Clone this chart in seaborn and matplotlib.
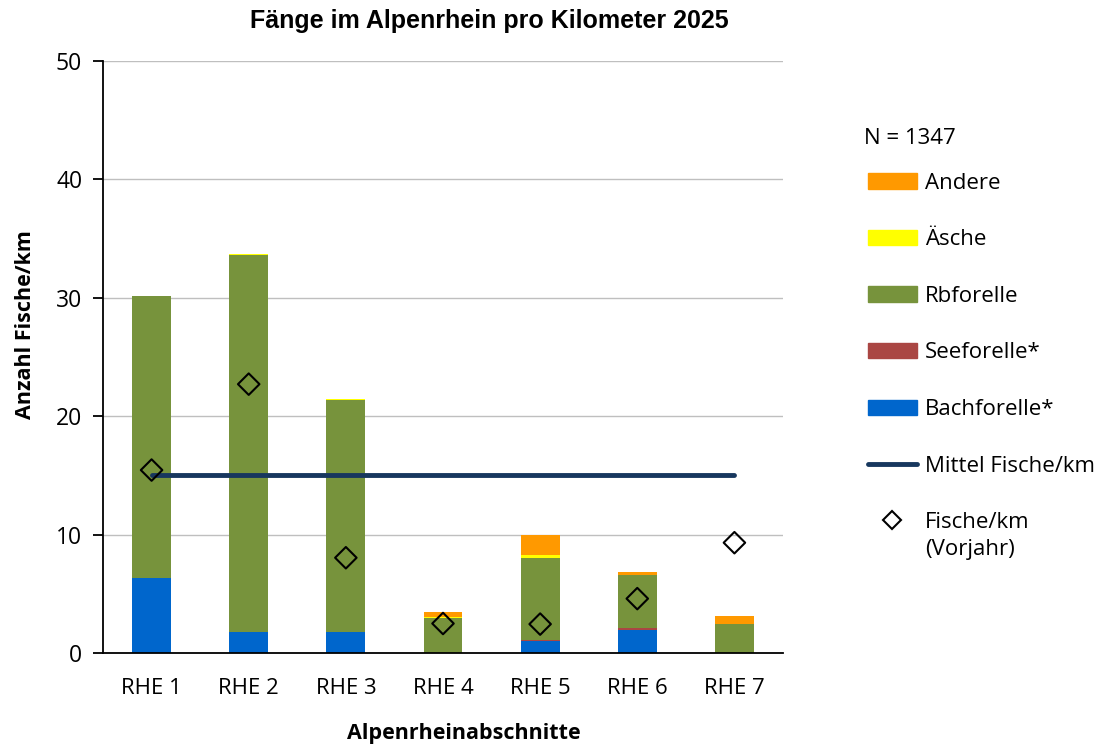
import numpy as np
import pandas as pd
import matplotlib
matplotlib.use("Agg")
import matplotlib.pyplot as plt
import seaborn as sns
from matplotlib.patches import Patch
from matplotlib.lines import Line2D

categories = ["RHE 1", "RHE 2", "RHE 3", "RHE 4", "RHE 5", "RHE 6", "RHE 7"]
bachforelle = [6.35, 1.80, 1.77, 0.00, 0.99, 1.91, 0.00]
seeforelle = [0.00, 0.00, 0.00, 0.00, 0.15, 0.25, 0.00]
rbforelle = [23.75, 31.80, 19.60, 2.95, 6.90, 4.45, 2.47]
aesche = [0.00, 0.08, 0.08, 0.12, 0.25, 0.00, 0.00]
andere = [0.00, 0.00, 0.00, 0.40, 1.70, 0.25, 0.68]
vorjahr = [15.45, 22.70, 8.05, 2.50, 2.45, 4.60, 9.32]
mittel = 15.05
n_total = 1347

sns.set_theme(style="white")
plt.rcParams["font.family"] = ["Open Sans", "DejaVu Sans"]
plt.rcParams["text.color"] = "black"
plt.rcParams["axes.labelcolor"] = "black"
plt.rcParams["xtick.color"] = "black"
plt.rcParams["ytick.color"] = "black"

colors = {
    "Andere": "#FF9900",
    "Äsche": "#FFFF00",
    "Rbforelle": "#77933C",
    "Seeforelle*": "#AA4643",
    "Bachforelle*": "#0066CC",
}

df = pd.DataFrame({
    "Abschnitt": categories,
    "Bachforelle*": bachforelle,
    "Seeforelle*": seeforelle,
    "Rbforelle": rbforelle,
    "Äsche": aesche,
    "Andere": andere,
})
stack_order = ["Bachforelle*", "Seeforelle*", "Rbforelle", "Äsche", "Andere"]
cum = df[stack_order].cumsum(axis=1)

fig = plt.figure(figsize=(11.10, 7.49), dpi=100)
ax = fig.add_axes([0.0928, 0.128, 0.6126, 0.791])

for sp in reversed(stack_order):
    sns.barplot(x=df["Abschnitt"], y=cum[sp], color=colors[sp], width=0.4,
                ax=ax, saturation=1, edgecolor="none", linewidth=0, zorder=2)

xs = np.arange(len(categories))
ax.plot([xs[0], xs[-1]], [mittel, mittel], color="#17375E", lw=3.5, zorder=3,
        solid_capstyle="round")
sns.scatterplot(x=xs, y=vorjahr, marker="D", s=120, facecolor="none",
                edgecolor="black", linewidth=1.5, ax=ax, zorder=4)

ax.set_xlim(-0.5, len(categories) - 0.5)
ax.set_ylim(0, 50)
ax.set_yticks([0, 10, 20, 30, 40, 50])
ax.yaxis.grid(True, color="#BFBFBF", lw=1)
ax.set_axisbelow(True)
for s in ["top", "right"]:
    ax.spines[s].set_visible(False)
for s in ["left", "bottom"]:
    ax.spines[s].set_color("black")
    ax.spines[s].set_linewidth(1.3)

ax.set_xticks(xs)
ax.set_xticklabels(categories, fontsize=16)
ax.tick_params(axis="x", length=0, pad=18)
ax.set_xticks(np.arange(-0.5, len(categories), 1), minor=True)
ax.tick_params(axis="x", which="minor", length=7, width=1.3, color="black", direction="out")
ax.tick_params(axis="y", length=7, width=1.3, color="black", direction="out", labelsize=16.5, pad=8, left=True)

ax.set_xlabel("Alpenrheinabschnitte", fontsize=15.5, fontweight="bold", labelpad=17, x=0.53)
ax.set_ylabel("Anzahl Fische/km", fontsize=15.5, fontweight="bold", labelpad=14, y=0.554)

fig.text(0.441, 0.972, "Fänge im Alpenrhein pro Kilometer 2025", ha="center", va="center",
         fontsize=18, fontweight="bold", family=["Liberation Sans", "DejaVu Sans"])

fig.text(864 / 1110, 1 - 139 / 749, f"N = {n_total}", ha="left", va="center", fontsize=16)

handles = [Patch(color=colors[k]) for k in ["Andere", "Äsche", "Rbforelle", "Seeforelle*", "Bachforelle*"]]
handles.append(Line2D([0], [0], color="#17375E", lw=3.5))
handles.append(Line2D([0], [0], marker="D", ls="none", markerfacecolor="none",
                      markeredgecolor="black", markersize=9, markeredgewidth=1.5))
labels = ["Andere", "Äsche", "Rbforelle", "Seeforelle*", "Bachforelle*",
          "Mittel Fische/km", "Fische/km"]
leg = fig.legend(handles, labels, loc="upper left", bbox_to_anchor=(0.764, 0.796),
                 frameon=False, fontsize=16,
                 handlelength=2.2, handleheight=0.68, labelspacing=1.6, handletextpad=0.35)

fig.canvas.draw()
last = leg.get_texts()[-1]
bb = last.get_window_extent().transformed(fig.transFigure.inverted())
fig.text(bb.x0, bb.y0 - 0.008, "(Vorjahr)", ha="left", va="top", fontsize=16)

fig.savefig("out.png", dpi=100)
